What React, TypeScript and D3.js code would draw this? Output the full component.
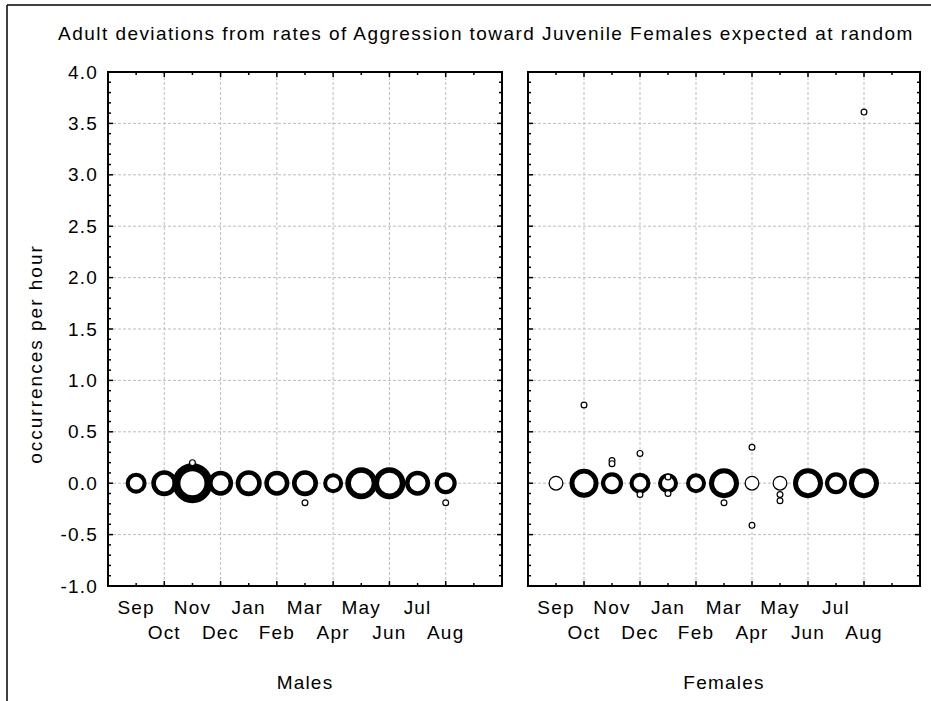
import React from "react";
import * as d3 from "d3";

// ---------- data ----------
const months = ["Sep", "Oct", "Nov", "Dec", "Jan", "Feb", "Mar", "Apr", "May", "Jun", "Jul", "Aug"];
const yTickValues = [-1.0, -0.5, 0.0, 0.5, 1.0, 1.5, 2.0, 2.5, 3.0, 3.5, 4.0];
const panelNames = ["Males", "Females"];
const titleText = "Adult deviations from rates of Aggression toward Juvenile Females expected at random";
const yAxisTitle = "occurrences per hour";

// main bubbles (all at 0.0 deviation), bubble size per month
const maleValues = [0, 0, 0, 0, 0, 0, 0, 0, 0, 0, 0, 0];
const maleSizes = [10.5, 13, 20, 12.5, 13, 12.5, 13, 10, 16, 16, 12.5, 11];
const femaleValues = [0, 0, 0, 0, 0, 0, 0, 0, 0, 0, 0, 0];
const femaleSizes = [7.5, 14.5, 11, 10.5, 10, 10, 15, 7.5, 7.5, 15, 11, 15];

// individual small points
const maleExtraMonths = ["Nov", "Mar", "Aug"];
const maleExtraValues = [0.2, -0.19, -0.19];
const femaleExtraMonths = ["Oct", "Nov", "Nov", "Dec", "Dec", "Jan", "Jan", "Mar", "Apr", "Apr", "May", "May", "Aug"];
const femaleExtraValues = [0.76, 0.22, 0.19, 0.29, -0.11, 0.06, -0.1, -0.19, 0.35, -0.41, -0.11, -0.17, 3.61];
const extraSize = 3.5;

// ---------- layout ----------
const W = 931;
const H = 701;
const FONT = "'Liberation Sans', Arial, Helvetica, sans-serif";
const FS = 19;
const LS = 1.2;
const plotTop = 72;
const plotBottom = 586;
const panels = [
  { x0: 108, x1: 502 },
  { x0: 528, x1: 920 },
];

const y = d3.scaleLinear().domain([-1, 4]).range([plotBottom, plotTop]);
const strokeFor = (s: number) =>
  s < 9 ? 1.3 : d3.scaleLinear().domain([10, 15, 20]).range([4, 5, 8]).clamp(true)(s);

const textProps = { fontSize: FS, fontFamily: FONT, letterSpacing: LS, fill: "#000" };

function Panel({ idx }: { idx: number }) {
  const p = panels[idx];
  const x = d3.scaleLinear().domain([0, 14]).range([p.x0, p.x1]);
  const values = idx === 0 ? maleValues : femaleValues;
  const sizes = idx === 0 ? maleSizes : femaleSizes;
  const exM = idx === 0 ? maleExtraMonths : femaleExtraMonths;
  const exV = idx === 0 ? maleExtraValues : femaleExtraValues;
  const xOf = (m: string) => x(months.indexOf(m) + 1);

  const xInts = d3.range(1, 14);
  const yMinor = d3.range(-9, 40).map((v) => v / 10);
  const gridY = yTickValues.filter((v) => v > -1 && v < 4);
  const gridX = xInts.filter((v) => v % 2 === 0);

  return (
    <g>
      {gridY.map((v) => (
        <line key={"gy" + v} x1={p.x0} x2={p.x1} y1={y(v)} y2={y(v)} stroke="#bdbdbd" strokeWidth={1} strokeDasharray="3,2" />
      ))}
      {gridX.map((v) => (
        <line key={"gx" + v} x1={x(v)} x2={x(v)} y1={plotTop} y2={plotBottom} stroke="#bdbdbd" strokeWidth={1} strokeDasharray="3,2" />
      ))}
      {values.map((v, i) => {
        const s = sizes[i];
        const sw = strokeFor(s);
        return (
          <circle key={"b" + i} cx={x(i + 1)} cy={y(v)} r={s - sw / 2} fill="#fff" stroke="#000" strokeWidth={sw} />
        );
      })}
      {exV.map((v, i) => (
        <circle key={"e" + i} cx={xOf(exM[i])} cy={y(v)} r={extraSize - 0.6} fill="#fff" stroke="#000" strokeWidth={1.2} />
      ))}
      <rect x={p.x0} y={plotTop} width={p.x1 - p.x0} height={plotBottom - plotTop} fill="none" stroke="#000" strokeWidth={2} />
      {xInts.map((v) => {
        const len = v % 2 === 0 ? 5 : 3;
        return (
          <g key={"xt" + v}>
            <line x1={x(v)} x2={x(v)} y1={plotBottom} y2={plotBottom - len} stroke="#000" strokeWidth={1.5} />
            <line x1={x(v)} x2={x(v)} y1={plotTop} y2={plotTop + len} stroke="#000" strokeWidth={1.5} />
          </g>
        );
      })}
      {yMinor.map((v) => {
        const major = Math.abs(Math.round(v * 2) - v * 2) < 1e-6;
        const len = major ? 5 : 3;
        return (
          <g key={"yt" + v}>
            <line x1={p.x0} x2={p.x0 + len} y1={y(v)} y2={y(v)} stroke="#000" strokeWidth={1.5} />
            <line x1={p.x1} x2={p.x1 - len} y1={y(v)} y2={y(v)} stroke="#000" strokeWidth={1.5} />
          </g>
        );
      })}
      {months.map((m, i) => (
        <text key={"xl" + m} x={x(i + 1)} y={i % 2 === 0 ? 614 : 639} textAnchor="middle" {...textProps}>
          {m}
        </text>
      ))}
      <text x={(p.x0 + p.x1) / 2} y={689} textAnchor="middle" {...textProps}>
        {panelNames[idx]}
      </text>
      {idx === 0 &&
        yTickValues.map((v) => (
          <text key={"yl" + v} x={98} y={y(v)} dy="0.35em" textAnchor="end" {...textProps}>
            {v.toFixed(1)}
          </text>
        ))}
    </g>
  );
}

export default function App() {
  return (
    <svg width={W} height={H} style={{ position: "absolute", left: 0, top: 0, background: "#fff" }}>
      <rect x={0} y={0} width={W} height={H} fill="#fff" />
      <line x1={7} x2={W} y1={5} y2={5} stroke="#000" strokeWidth={1.5} />
      <line x1={7} x2={7} y1={5} y2={H} stroke="#000" strokeWidth={1.5} />
      <text x={486} y={40} textAnchor="middle" {...textProps} letterSpacing={1.45}>
        {titleText}
      </text>
      <text transform={`translate(42,354) rotate(-90)`} textAnchor="middle" {...textProps} letterSpacing={2}>
        {yAxisTitle}
      </text>
      <Panel idx={0} />
      <Panel idx={1} />
    </svg>
  );
}
